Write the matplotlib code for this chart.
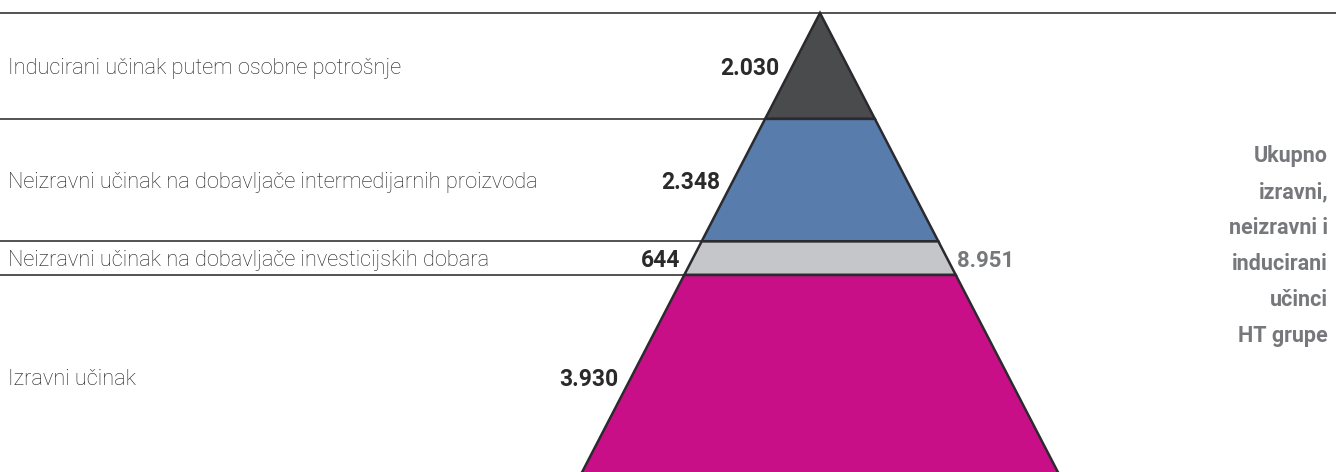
import matplotlib
matplotlib.use('Agg')
import matplotlib.pyplot as plt
from matplotlib.patches import Polygon

# podaci (od vrha piramide prema dnu)
labels = ['Inducirani učinak putem osobne potrošnje',
          'Neizravni učinak na dobavljače intermedijarnih proizvoda',
          'Neizravni učinak na dobavljače investicijskih dobara',
          'Izravni učinak']
values = [2030, 2348, 644, 3930]
value_text = ['2.030', '2.348', '644', '3.930']
colors = ['#4a4b4d', '#587cab', '#c5c6c9', '#c90f88']
total_text = '8.951'
side_text = 'Ukupno\nizravni,\nneizravni i\ninducirani\nučinci\nHT grupe'

total = sum(values)
W, H = 1336, 472
apex_x = 820          # vrh piramide (px)
base_half = 242       # pola širine baze (px), baza malo ispod ruba slike
top_px = 13           # vrh piramide od gornjeg ruba (px)
pyr_h = 467           # visina cijele piramide (px)
scale = total / pyr_h  # jedinice vrijednosti po pikselu

plt.rcParams['font.family'] = ['Roboto', 'DejaVu Sans']
fig = plt.figure(figsize=(W / 100, H / 100), dpi=100)
ax = fig.add_axes([0, 0, 1, 1])
ax.set_xlim(0, W)
ax.set_ylim((H - top_px) * scale, -top_px * scale)
ax.axis('off')


def half(v):
    return base_half * v / total


# gornja linija
ax.plot([0, W], [0, 0], color='#444444', lw=1.3, zorder=1)

start = 0
for lab, v, vt, c in zip(labels, values, value_text, colors):
    end = start + v
    poly = Polygon([(apex_x - half(start), start), (apex_x + half(start), start),
                    (apex_x + half(end), end), (apex_x - half(end), end)],
                   closed=True, facecolor=c, edgecolor='#2b2a2e', lw=1.8, zorder=3)
    ax.add_patch(poly)
    if end < total:
        ax.plot([0, apex_x - half(end)], [end, end], color='#444444', lw=1.3, zorder=1)
    mid = (start + end) / 2
    ax.text(8, mid, lab, ha='left', va='center_baseline', fontsize=15.7,
            fontweight='light', color='#1e1e1e')
    ax.text(apex_x - half(mid) - 13, mid, vt, ha='right', va='center_baseline',
            fontsize=16.5, fontweight='bold', color='#2a2a2a')
    start = end

gmid = sum(values[:2]) + values[2] / 2
ax.text(apex_x + half(gmid) + 10, gmid, total_text, ha='left', va='center_baseline',
        fontsize=16, fontweight='bold', color='#77787b')

ax.text(1328, gmid - 12 * scale, side_text, ha='right', va='center', fontsize=15.5,
        fontweight='bold', color='#77787b', linespacing=1.82)

fig.savefig('out.png', dpi=100)
